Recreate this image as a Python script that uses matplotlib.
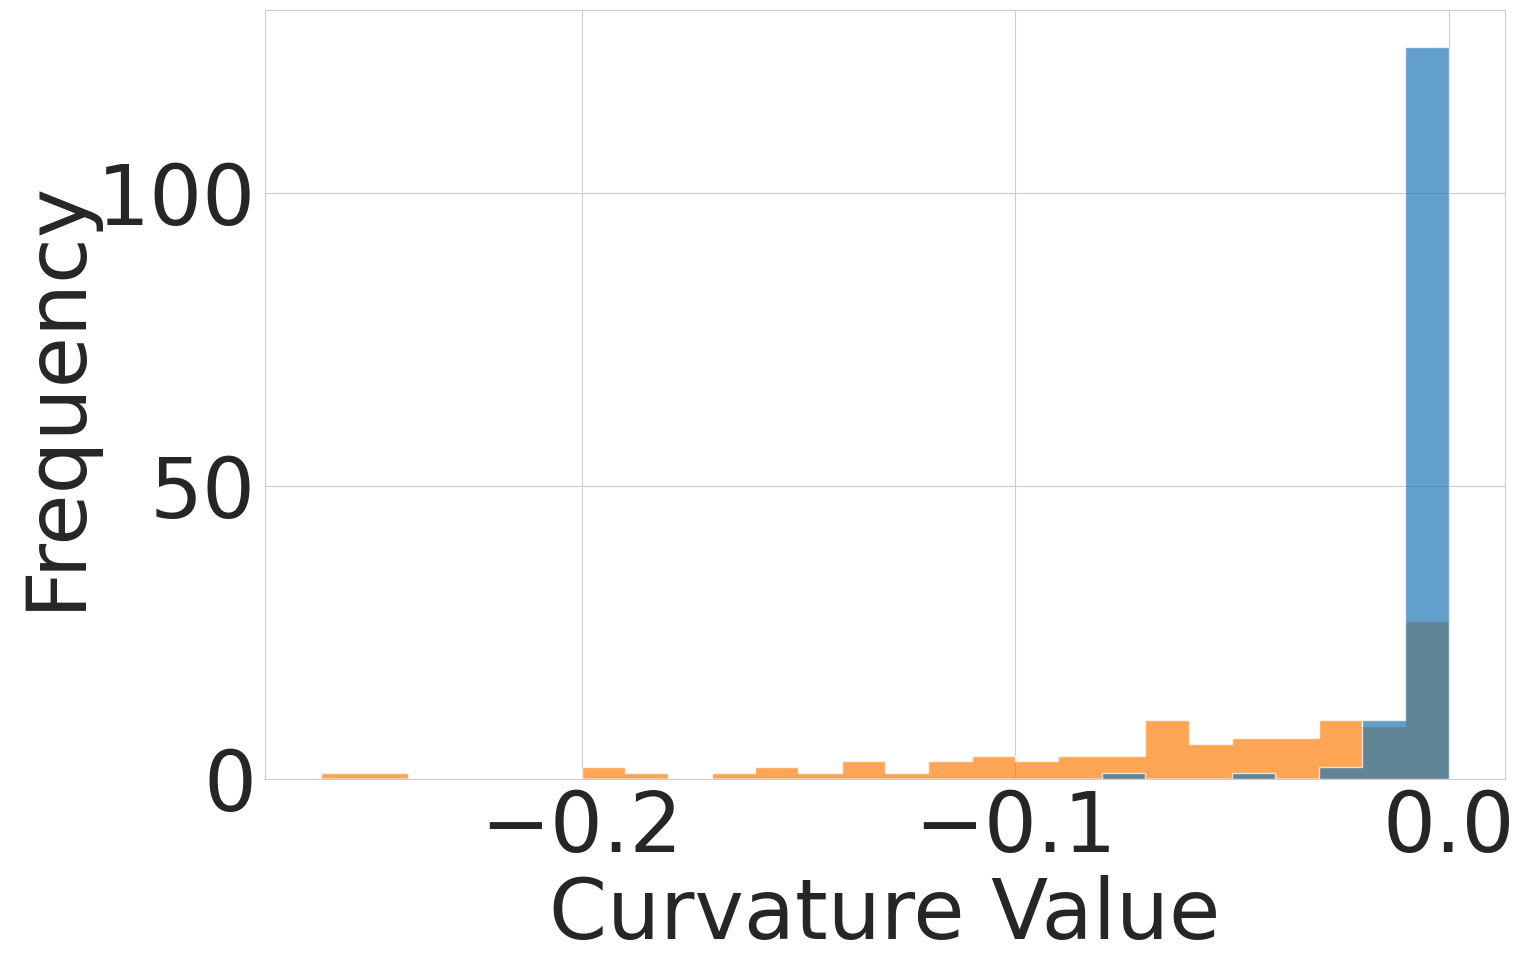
import numpy as np
import matplotlib
matplotlib.use("Agg")
import matplotlib.pyplot as plt
import seaborn as sns

sns.set_style("whitegrid")

# bin edges (26 bins of ~0.01 from -0.26 to 0)
bin_edges = np.linspace(-0.26, 0.0, 27)
bin_centers = (bin_edges[:-1] + bin_edges[1:]) / 2

# counts per bin
orange_counts = [1, 1, 0, 0, 0, 0, 2, 1, 0, 1, 2, 1, 3, 1, 3, 4, 3, 4, 4, 10, 6, 7, 7, 10, 9, 27]
blue_counts = [0, 0, 0, 0, 0, 0, 0, 0, 0, 0, 0, 0, 0, 0, 0, 0, 0, 0, 1, 0, 0, 1, 0, 2, 10, 125]

fig = plt.figure(figsize=(15.25, 9.67), dpi=100)
ax = fig.add_axes([0.1738, 0.1944, 0.8131, 0.7952])

ax.hist(bin_centers, bins=bin_edges, weights=orange_counts, color="tab:orange",
        alpha=0.7, histtype="stepfilled", edgecolor="white", linewidth=1)
ax.hist(bin_centers, bins=bin_edges, weights=blue_counts, color="tab:blue",
        alpha=0.7, histtype="stepfilled", edgecolor="white", linewidth=1)

ax.set_xticks([-0.2, -0.1, 0.0])
ax.set_yticks([0, 50, 100])
ax.tick_params(labelsize=60, colors="#262626", pad=3)
ax.set_xlabel("Curvature Value", fontsize=60, color="#262626", labelpad=4)
ax.set_ylabel("Frequency", fontsize=60, color="#262626", labelpad=1)

fig.savefig("out.png", dpi=100)
